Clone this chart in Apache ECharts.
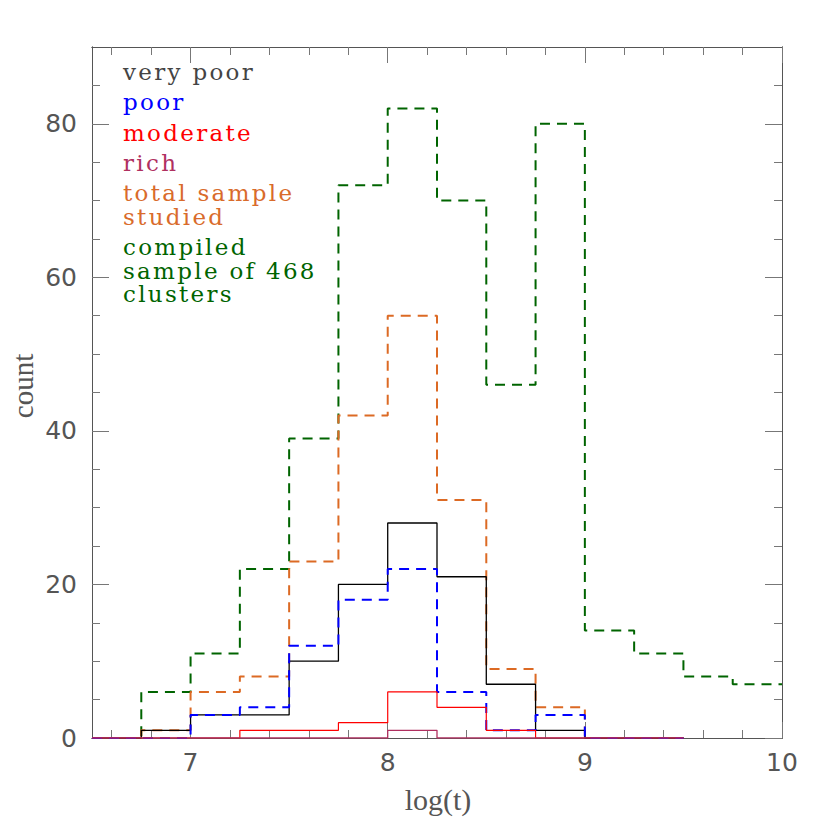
<!DOCTYPE html>
<html>
<head>
<meta charset="utf-8">
<script src="https://cdn.jsdelivr.net/npm/echarts@6/dist/echarts.min.js"></script>
<style>
html,body{margin:0;padding:0;background:#fff;}
#chart{width:830px;height:826px;}
</style>
</head>
<body>
<div id="chart"></div>
<script>
// ---- data ----
const binEdges = [6.5, 6.75, 7, 7.25, 7.5, 7.75, 8, 8.25, 8.5, 8.75, 9, 9.25, 9.5, 9.75, 10];
const compiledSample = [0, 6, 11, 22, 39, 72, 82, 70, 46, 80, 14, 11, 8, 7];
const totalSample    = [0, 1, 6, 8, 23, 42, 55, 31, 9, 4, 0, 0];
const veryPoor       = [0, 1, 3, 3, 10, 20, 28, 21, 7, 1, 0, 0];
const poor           = [0, 0, 3, 4, 12, 18, 22, 6, 1, 3, 0, 0];
const moderate       = [0, 0, 0, 1, 1, 2, 6, 4, 1, 0, 0, 0];
const rich           = [0, 0, 0, 0, 0, 0, 1, 0, 0, 0, 0, 0];
const xMajorTicks = [7, 8, 9, 10];
const xMinorTicks = [6.6, 6.8, 7.2, 7.4, 7.6, 7.8, 8.2, 8.4, 8.6, 8.8, 9.2, 9.4, 9.6, 9.8];
const yMajorTicks = [0, 20, 40, 60, 80];
const yMinorTicks = [5, 10, 15, 25, 30, 35, 45, 50, 55, 65, 70, 75, 85];
const legendLines = [["very poor"], ["poor"], ["moderate"], ["rich"], ["total sample", "studied"], ["compiled", "sample of 468", "clusters"]];
const xName = "log(t)";
const yName = "count";

// ---- build ----
function stepData(counts) {
  const d = counts.map((c, i) => [binEdges[i], c]);
  d.push([binEdges[counts.length], counts[counts.length - 1]]);
  return d;
}
const axisCol = '#555';
const tickCol = '#777';
const labelFont = {fontFamily: 'DejaVu Sans', fontSize: 25, color: '#555'};

function xAx(pos, ticks, len, showLabel) {
  return {
    type: 'value', min: 6.5, max: 10, position: pos,
    axisLine: {show: true, onZero: false, lineStyle: {color: axisCol, width: 1}},
    axisTick: {show: true, inside: true, length: len, customValues: ticks, lineStyle: {color: tickCol, width: 1}},
    axisLabel: showLabel ? Object.assign({show: true, customValues: ticks, margin: 12}, labelFont) : {show: false},
    splitLine: {show: false}
  };
}
function yAx(pos, ticks, len, showLabel) {
  return {
    type: 'value', min: 0, max: 90, position: pos,
    axisLine: {show: true, onZero: false, lineStyle: {color: axisCol, width: 1}},
    axisTick: {show: true, inside: true, length: len, customValues: ticks, lineStyle: {color: tickCol, width: 1}},
    axisLabel: showLabel ? Object.assign({show: true, customValues: ticks, margin: 15}, labelFont) : {show: false},
    splitLine: {show: false}
  };
}

function histSeries(name, counts, color, width, dashed) {
  return {
    name: name, type: 'line', step: 'end', data: stepData(counts),
    xAxisIndex: 0, yAxisIndex: 0, showSymbol: false, symbol: 'none', silent: true,
    lineStyle: {color: color, width: width, type: dashed ? [10, 7] : 'solid'}
  };
}

const legendColors = ['#444444', '#0000ff', '#ff0000', '#b03060', '#d96b2b', '#006400'];
const legendFirstBaseline = 80;
const itemGap = 30.3, lineGap = 23.5;
const graphics = [];
let base = legendFirstBaseline;
legendLines.forEach((lines, i) => {
  lines.forEach((t, j) => {
    graphics.push({
      type: 'text', left: 123, top: base - 19.5,
      style: {text: t, fill: legendColors[i], font: '23px "DejaVu Serif"'}
    });
    if (j < lines.length - 1) base += lineGap;
  });
  base += itemGap;
});
graphics.push({type: 'text', x: 438, y: 799, style: {text: xName, fill: '#555', font: '30px "Liberation Serif"', textAlign: 'center', textVerticalAlign: 'middle'}});
graphics.push({type: 'text', x: 23, y: 386, rotation: Math.PI / 2, style: {text: yName, fill: '#555', font: '29px "Liberation Serif"', textAlign: 'center', textVerticalAlign: 'middle'}});

const chart = echarts.init(document.getElementById('chart'), null, {renderer: 'svg'});
chart.setOption({
  animation: false,
  backgroundColor: '#fff',
  grid: {left: 92, right: 48, top: 47, bottom: 88, containLabel: false},
  xAxis: [
    xAx('bottom', xMajorTicks, 16, true),
    xAx('bottom', xMinorTicks, 8, false),
    xAx('top', xMajorTicks, 16, false),
    xAx('top', xMinorTicks, 8, false)
  ],
  yAxis: [
    yAx('left', yMajorTicks, 17, true),
    yAx('left', yMinorTicks, 8, false),
    yAx('right', yMajorTicks, 17, false),
    yAx('right', yMinorTicks, 8, false)
  ],
  series: [
    histSeries('compiled sample of 468 clusters', compiledSample, '#006400', 2, true),
    histSeries('total sample studied', totalSample, '#dc6a24', 2, true),
    histSeries('very poor', veryPoor, '#000000', 1.3, false),
    histSeries('poor', poor, '#0000ff', 2, true),
    histSeries('moderate', moderate, '#ff0000', 1.2, false),
    histSeries('rich', rich, '#b03060', 1.3, false)
  ],
  graphic: graphics
});
// widen the legend lettering like the original's spaced serif
const legendSet = new Set(legendLines.flat());
document.querySelectorAll('#chart svg text').forEach(function (t) {
  if (legendSet.has(t.textContent)) t.style.letterSpacing = '2.3px';
});
</script>
</body>
</html>
